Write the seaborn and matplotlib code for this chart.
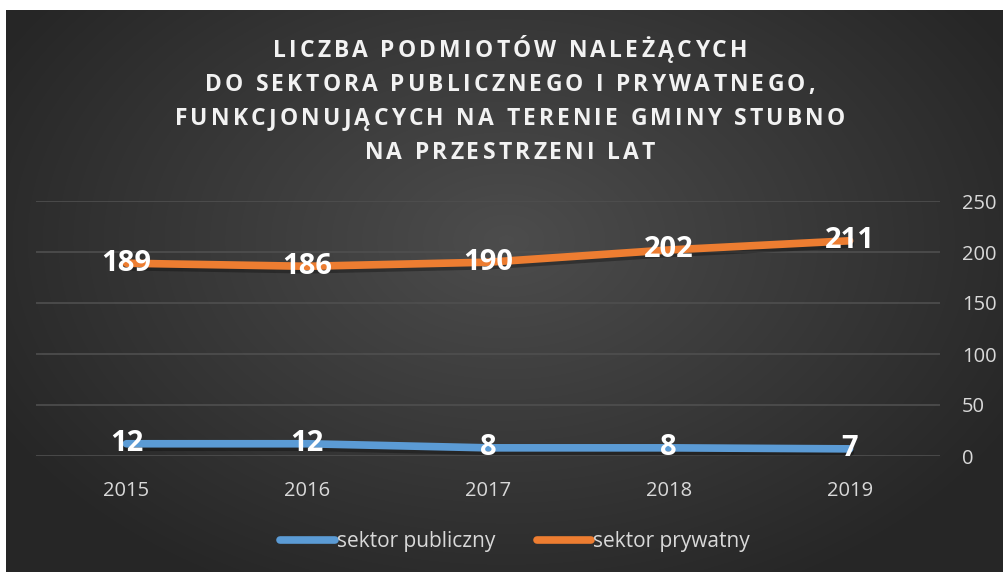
import numpy as np
import pandas as pd
import seaborn as sns
import matplotlib.pyplot as plt
import matplotlib.patheffects as pe

# Data
years = ["2015", "2016", "2017", "2018", "2019"]
sektor_publiczny = [12, 12, 8, 8, 7]
sektor_prywatny = [189, 186, 190, 202, 211]
y_ticks = [0, 50, 100, 150, 200, 250]

title_lines = ["LICZBA PODMIOTÓW NALEŻĄCYCH",
               "DO SEKTORA PUBLICZNEGO I PRYWATNEGO,",
               "FUNKCJONUJĄCYCH NA TERENIE GMINY STUBNO",
               "NA PRZESTRZENI LAT"]

df = pd.DataFrame({
    "rok": list(range(len(years))) * 2,
    "liczba": sektor_publiczny + sektor_prywatny,
    "sektor": ["sektor publiczny"] * len(years) + ["sektor prywatny"] * len(years),
})

palette = {"sektor publiczny": "#5b9bd5", "sektor prywatny": "#ed7d31"}

sns.set_style("dark")
plt.rcParams["font.family"] = ["Open Sans", "DejaVu Sans"]

W, H = 1004, 572
fig = plt.figure(figsize=(W / 100, H / 100), dpi=100)
fig.patch.set_facecolor("white")

# radial gradient background
bg = fig.add_axes([6 / W, 0, (W - 6) / W, (H - 10) / H])
yy, xx = np.mgrid[0:562, 0:998]
r = np.sqrt(((xx - 500) / 620) ** 2 + ((yy - 230) / 420) ** 2)
shade = np.clip(0.30 - 0.16 * r, 0.15, 0.30)
bg.imshow(np.dstack([shade] * 3), aspect="auto", extent=[0, 1, 0, 1])
bg.set_axis_off()

ax = fig.add_axes([36 / W, (H - 456) / H, (940 - 36) / W, (456 - 201) / H])
ax.patch.set_alpha(0)

sns.lineplot(data=df, x="rok", y="liczba", hue="sektor", palette=palette,
             linewidth=5.5, ax=ax, solid_capstyle="round",
             path_effects=[pe.SimpleLineShadow(offset=(0.5, -2.5), shadow_color="black", alpha=0.3),
                           pe.Normal()])

for vals in (sektor_publiczny, sektor_prywatny):
    for i, v in enumerate(vals):
        ax.text(i, v, str(v), ha="center", va="center", color="white",
                fontsize=21, fontweight="bold", zorder=5)

ax.set_xlim(-0.5, len(years) - 0.5)
ax.set_ylim(0, 250)
ax.set_xticks(range(len(years)))
ax.set_xticklabels(years)
ax.set_yticks(y_ticks)
ax.yaxis.tick_right()
ax.tick_params(axis="both", colors="#d9d9d9", labelsize=14.5, length=0)
ax.tick_params(axis="y", pad=16)
ax.tick_params(axis="x", pad=18)
for lab in ax.get_yticklabels():
    lab.set_horizontalalignment("left")
ax.grid(axis="y", color="#4f4f4f", linewidth=1.2)
ax.grid(axis="x", visible=False)
ax.set_xlabel("")
ax.set_ylabel("")
for s in ax.spines.values():
    s.set_visible(False)

leg = ax.legend(loc="center", bbox_to_anchor=(0.53, -0.335), ncol=2, frameon=False,
                fontsize=15, handlelength=2.6, handletextpad=0.1, columnspacing=2.0)
for t in leg.get_texts():
    t.set_color("#d9d9d9")
for h in leg.get_lines():
    h.set_linewidth(5.5)
    h.set_path_effects([])

# title with letter spacing, drawn char by char
renderer = fig.canvas.get_renderer()
title_size = 16.5
tracking = 3.2


def text_width(s):
    t = fig.text(0, 0, s, fontsize=title_size, fontweight="bold")
    w = t.get_window_extent(renderer).width
    t.remove()
    return w


base = text_width("HH")
baselines = [57, 91, 125, 159]
for line, yb in zip(title_lines, baselines):
    widths = [text_width("H" + ch + "H") - base for ch in line]
    total = sum(widths) + tracking * (len(line) - 1)
    x = 510 - total / 2
    for ch, w in zip(line, widths):
        if ch != " ":
            fig.text(x / W, 1 - yb / H, ch, ha="left", va="baseline", color="#f2f2f2",
                     fontsize=title_size, fontweight="bold")
        x += w + tracking

fig.savefig("out.png", dpi=100)
